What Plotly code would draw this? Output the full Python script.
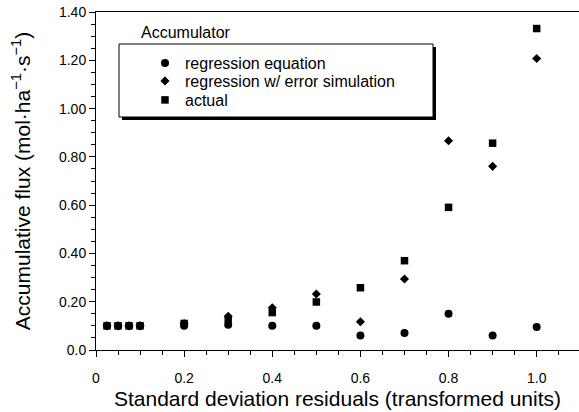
import plotly.graph_objects as go

# x values (standard deviation residuals)
x_vals = [0.025, 0.05, 0.075, 0.1, 0.2, 0.3, 0.4, 0.5, 0.6, 0.7, 0.8, 0.9, 1.0]
# series
regression_eq = [0.10, 0.10, 0.10, 0.10, 0.10, 0.105, 0.10, 0.10, 0.06, 0.07, 0.15, 0.06, 0.095]
regression_err = [0.10, 0.10, 0.10, 0.10, 0.11, 0.14, 0.175, 0.232, 0.117, 0.294, 0.867, 0.761, 1.208]
actual = [0.10, 0.10, 0.10, 0.10, 0.11, 0.128, 0.155, 0.199, 0.258, 0.37, 0.591, 0.857, 1.332]

names = ["regression equation", "regression w/ error simulation", "actual"]

x_tickvals = [0, 0.2, 0.4, 0.6, 0.8, 1.0]
x_ticktext = ["0", "0.2", "0.4", "0.6", "0.8", "1.0"]
y_tickvals = [0, 0.2, 0.4, 0.6, 0.8, 1.0, 1.2, 1.4]
y_ticktext = ["0.0", "0.20", "0.40", "0.60", "0.80", "1.00", "1.20", "1.40"]

FONT = "Liberation Sans, Arial, sans-serif"

W, H = 579, 412
ml, mr, mt, mb = 96, 0, 12, 62
pw, ph = W - ml - mr, H - mt - mb

def px(xp):
    return (xp - ml) / pw

def py(yp):
    return (H - mb - yp) / ph

fig = go.Figure()
fig.add_trace(go.Scatter(x=x_vals, y=regression_eq, mode="markers", name=names[0], legend="legend",
                         marker=dict(symbol="circle", size=8, color="black")))
fig.add_trace(go.Scatter(x=x_vals, y=regression_err, mode="markers", name=names[1], legend="legend2",
                         marker=dict(symbol="diamond", size=7, color="black")))
fig.add_trace(go.Scatter(x=x_vals, y=actual, mode="markers", name=names[2], legend="legend3",
                         marker=dict(symbol="square", size=7.5, color="black")))

# legend box with shadow
bx0, bx1, by0, by1 = 119, 433, 44, 117
shapes = [
    dict(type="rect", xref="paper", yref="paper", x0=px(bx0 + 3), x1=px(bx1 + 3),
         y0=py(by1 + 3), y1=py(by0 + 3), fillcolor="black", line=dict(width=0), layer="below"),
    dict(type="rect", xref="paper", yref="paper", x0=px(bx0), x1=px(bx1),
         y0=py(by1), y1=py(by0), fillcolor="white", line=dict(color="black", width=1), layer="below"),
]

row_y = [63, 81, 100]
def leg(yc):
    return dict(x=px(145), y=py(yc), xanchor="left", yanchor="middle",
                bgcolor="rgba(0,0,0,0)", borderwidth=0,
                font=dict(size=16, family=FONT), itemwidth=30)

fig.update_layout(
    width=W, height=H,
    margin=dict(l=ml, r=mr, t=mt, b=mb),
    paper_bgcolor="white", plot_bgcolor="white",
    font=dict(family=FONT, color="black"),
    showlegend=True,
    legend=leg(row_y[0]), legend2=leg(row_y[1]), legend3=leg(row_y[2]),
    shapes=shapes,
    annotations=[dict(text="Accumulator", x=px(139), y=py(33), xref="paper", yref="paper",
                      xanchor="left", yanchor="middle", showarrow=False,
                      font=dict(size=16, family=FONT))],
    xaxis=dict(range=[0, 1.096], tickvals=x_tickvals, ticktext=x_ticktext,
               showgrid=False, zeroline=False, showline=True, linecolor="black", linewidth=1,
               mirror=True, ticks="outside", ticklen=6, tickcolor="black",
               tickfont=dict(size=14), ticklabelstandoff=9,
               minor=dict(tickmode="linear", tick0=0, dtick=0.05, ticks="outside",
                          ticklen=4, tickcolor="black", showgrid=False),
               title=dict(text="Standard deviation residuals (transformed units)",
                          font=dict(size=21), standoff=6)),
    yaxis=dict(range=[0, 1.4005], tickvals=y_tickvals, ticktext=y_ticktext,
               showgrid=False, zeroline=False, showline=True, linecolor="black", linewidth=1,
               ticks="outside", ticklen=6, tickcolor="black",
               tickfont=dict(size=14), ticklabeloverflow="allow",
               minor=dict(tickmode="linear", tick0=0, dtick=0.05, ticks="outside",
                          ticklen=4, tickcolor="black", showgrid=False),
               title=dict(text="Accumulative flux (mol·ha<sup>−1</sup>·s<sup>−1</sup>)",
                          font=dict(size=21), standoff=22)),
)

fig.write_html("out.html", config={"displayModeBar": False},
               post_script="document.body.style.margin='0';document.body.style.overflow='hidden';")
